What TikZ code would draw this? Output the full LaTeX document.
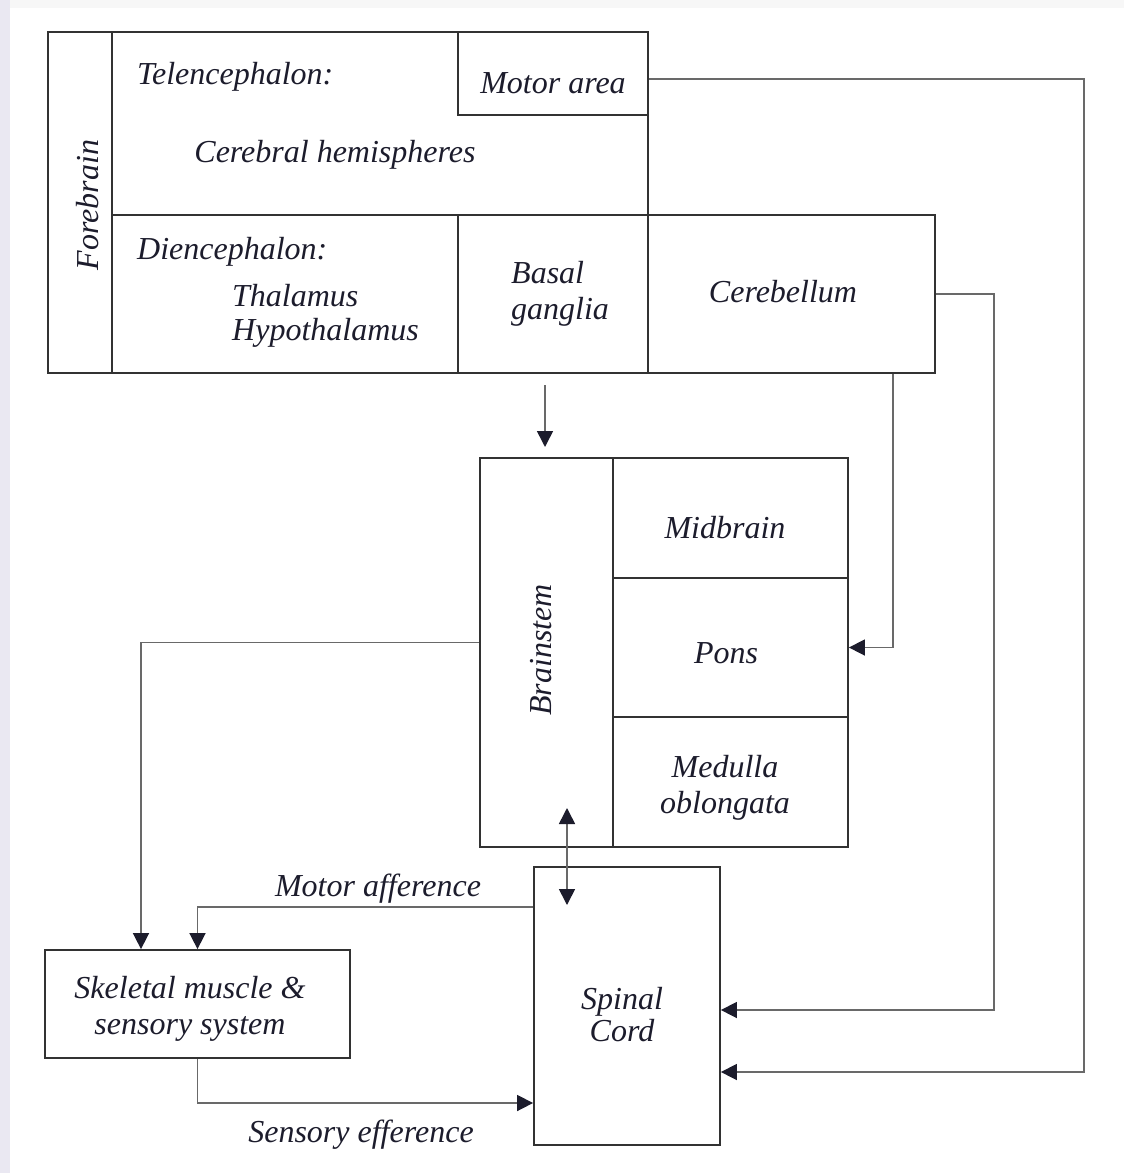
\documentclass[tikz,border=0pt]{standalone}
\usepackage{fontspec}
\setmainfont{Liberation Serif}
\usetikzlibrary{arrows.meta,positioning}
\definecolor{inkcol}{RGB}{28,28,44}
\definecolor{linecol}{RGB}{50,50,50}
\definecolor{wirecol}{RGB}{105,105,105}
\definecolor{edgecol}{RGB}{234,232,242}

\begin{document}
\begin{tikzpicture}[line join=miter,>={Triangle[length=16pt,width=16pt,color=inkcol]},x=1pt,y=-1pt,
		cell/.style={draw=linecol,line width=1.8pt,inner sep=0pt},
		lbl/.style={text=inkcol,font=\fontsize{32}{36}\selectfont\itshape,inner sep=0pt,align=center},
		wire/.style={draw=wirecol,line width=1.6pt}]
			\useasboundingbox (0,0) rectangle (1124,1173);
			\fill[white] (0,0) rectangle (1124,1173);
			\fill[edgecol] (0,0) rectangle (10,1173);
			\fill[gray!6] (10,0) rectangle (1124,8);
			%%%%%%%%%%%%%%% F O R E B R A I N %%%%%%%%%%%%%%%%
			%column
			\node[cell,minimum width=64pt,minimum height=341pt] (fore) at (80,202.5) {};
			\node[lbl,rotate=90] (foretxt) at (88,205) {Forebrain};
			%telencephalon
			\node[cell,minimum width=536pt,minimum height=183pt] (tele) at (380,123.5) {};
			\node[cell,minimum width=190pt,minimum height=83pt] (motor) at (553,73.5) {};
			\node[lbl] (motortxt) at (553,83) {Motor area};
			\node[lbl,anchor=west] (teletxt) at (137,77) {Telencephalon:};
			\node[lbl] (hemi) at (335,155) {Cerebral hemispheres};
			%diencephalon
			\node[cell,minimum width=346pt,minimum height=158pt] (dien) at (285,294) {};
			\node[lbl,anchor=west] (dientxt) at (137,252) {Diencephalon:};
			\node[lbl,anchor=west,align=left,font=\fontsize{32}{34}\selectfont\itshape] (thal) at (232,315.5) {Thalamus\\Hypothalamus};
			\node[cell,minimum width=190pt,minimum height=158pt] (basal) at (553,294) {};
			\node[lbl,anchor=west,align=left] (basaltxt) at (511,294) {Basal\\ganglia};
			\node[cell,minimum width=287pt,minimum height=158pt] (cereb) at (791.5,294) {};
			\node[lbl] (cerebtxt) at (783,292) {Cerebellum};
			%%%%%%%%%%%%%%% B R A I N S T E M %%%%%%%%%%%%%%%%
			\node[cell,minimum width=133pt,minimum height=389pt] (stem) at (546.5,652.5) {};
			\node[lbl,rotate=90] (stemtxt) at (541,650) {Brainstem};
			\node[cell,minimum width=235pt,minimum height=120pt] (mid) at (730.5,518) {};
			\node[cell,minimum width=235pt,minimum height=139pt] (pons) at (730.5,647.5) {};
			\node[cell,minimum width=235pt,minimum height=130pt] (medulla) at (730.5,782) {};
			\node[lbl] (midtxt) at (725,528) {Midbrain};
			\node[lbl] (ponstxt) at (726,653) {Pons};
			\node[lbl] (medtxt) at (725,788) {Medulla\\oblongata};
			%%%%%%%%%%%%%%% P E R I P H E R Y %%%%%%%%%%%%%%%%
			\node[cell,minimum width=186pt,minimum height=278pt] (spinal) at (627,1006) {};
			\node[lbl,font=\fontsize{32}{32}\selectfont\itshape] (spinaltxt) at (622,1015) {Spinal\\Cord};
			\node[cell,minimum width=305pt,minimum height=108pt] (skel) at (197.5,1004) {};
			\node[lbl] (skeltxt) at (190,1009) {Skeletal muscle \&\\sensory system};
			%%%%%%%%%%%%%%% C O N N E C T I O N S %%%%%%%%%%%%%%%%
			%forebrain to brainstem
			\coordinate (fbout) at (545,385);
			\coordinate (stemin) at (545,447);
			\draw [wire,->] (fbout) -- (stemin);
			%cerebellum to pons
			\draw [wire,->] ([xshift=101.5pt]cereb.south) |- (pons.east);
			%cerebellum to spinal cord
			\draw [wire,->] (cereb.east) -- ++(58,0) |- ([yshift=-4pt]spinal.east);
			%motor area to spinal cord
			\draw [wire,->] ([yshift=-5.5pt]motor.east) -- ++(435,0) |- ([yshift=-66pt]spinal.east);
			%brainstem to muscle
			\draw [wire,->] ([yshift=10pt]stem.west) -| ([xshift=-56.5pt]skel.north);
			%brainstem <-> spinal cord
			\coordinate (stembot) at (567,808);
			\coordinate (cordtop) at (567,905);
			\draw [wire,<->] (cordtop) -- (stembot);
			%afference / efference
			\draw [wire,->] ([yshift=99pt]spinal.west) -| (skel.north);
			\draw [wire,->] (skel.south) |- ([yshift=-97pt]spinal.west);
			%T A G S
			\node[lbl] (motaff) at (378,889) {Motor afference};
			\node[lbl] (senseff) at (361,1135) {Sensory efference};
\end{tikzpicture}
\end{document}
